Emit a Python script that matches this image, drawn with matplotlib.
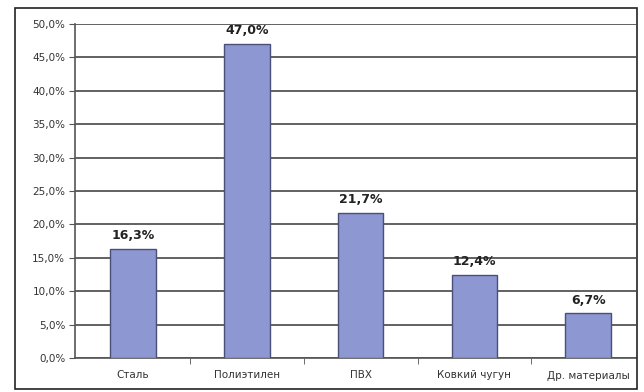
import numpy as np
import matplotlib.pyplot as plt
from matplotlib.patches import Rectangle
from matplotlib.ticker import FuncFormatter

# Доля материалов труб
materials = ['Сталь', 'Полиэтилен', 'ПВХ', 'Ковкий чугун', 'Др. материалы']
shares = [16.3, 47.0, 21.7, 12.4, 6.7]

fig = plt.figure(figsize=(6.44, 3.92), dpi=100)
fig.patch.set_facecolor('white')

# рамка вокруг всей диаграммы
fig.patches.append(Rectangle((15 / 644, 1 - 389 / 392), 622 / 644, 381 / 392,
                             transform=fig.transFigure, fill=False,
                             edgecolor='#222222', linewidth=1.2))

ax = fig.add_axes([75 / 644, 1 - 358 / 392, (636 - 75) / 644, (358 - 24) / 392])

x = np.arange(len(materials))
ax.bar(x, shares, width=0.4, color='#8d97d2', edgecolor='#4a4f78', linewidth=1.0, zorder=3)

for xi, v in zip(x, shares):
    ax.text(xi, v + 1.0, f'{v:.1f}%'.replace('.', ','), ha='center', va='bottom',
            fontsize=9, fontweight='bold', color='#222222')

ax.set_xlim(-0.51, 4.42)
ax.set_ylim(0, 50)
ax.set_yticks(np.arange(0, 50.1, 5))
ax.yaxis.set_major_formatter(FuncFormatter(lambda v, p: f'{v:.1f}%'.replace('.', ',')))
ax.grid(axis='y', color='#555555', linewidth=1.3, zorder=0)

ax.set_xticks(x)
ax.set_xticklabels(materials)
ax.set_xticks(x[:-1] + 0.5, minor=True)
ax.tick_params(axis='x', which='major', length=0, labelsize=7.5, colors='#333333', pad=9)
ax.tick_params(axis='x', which='minor', length=4, color='#555555')
ax.tick_params(axis='y', length=4, labelsize=7.5, colors='#333333', pad=3)
ax.tick_params(axis='y', colors='#555555', labelcolor='#333333')

for side in ['top', 'right']:
    ax.spines[side].set_visible(False)
ax.spines['left'].set_color('#555555')
ax.spines['bottom'].set_color('#555555')
ax.spines['left'].set_linewidth(1.2)
ax.spines['bottom'].set_linewidth(1.2)

fig.savefig('out.png', dpi=100)
